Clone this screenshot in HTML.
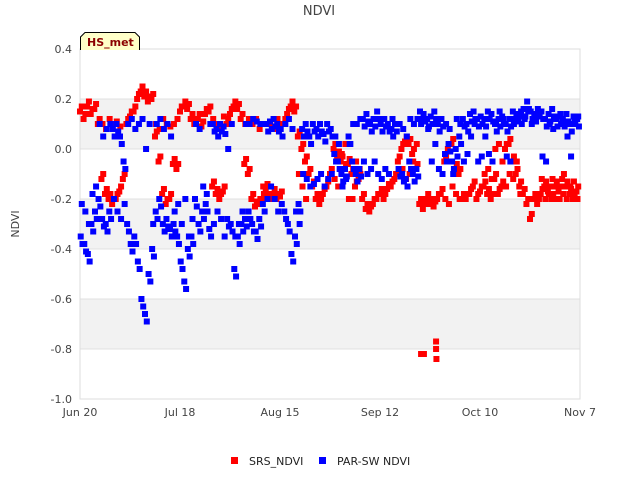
<!DOCTYPE html>
<html><head><meta charset="utf-8"><style>
body{margin:0;background:#fff;width:640px;height:480px;overflow:hidden;font-family:"DejaVu Sans","Liberation Sans",sans-serif}
</style></head><body>
<svg id="chart" width="640" height="480" xmlns="http://www.w3.org/2000/svg">
<g id="bands"></g>
<g id="grid"></g>
<rect x="80" y="49" width="500" height="350" fill="none" stroke="#ddd"/>
<g id="yticks"></g>
<g id="xticks"></g>
<g id="marks"></g>
<text x="319" y="15" text-anchor="middle" font-size="13" fill="#444">NDVI</text>
<text x="19" y="224" text-anchor="middle" font-size="11" fill="#444" transform="rotate(-90 19 224)">NDVI</text>
<g>
<path d="M80.5,50 L80.5,37 L85,32.5 L135,32.5 L139.5,37 L139.5,50" fill="#ffffc8" stroke="#000"/>
<text x="87" y="46" font-size="11" font-weight="bold" fill="#8b0000">HS_met</text>
</g>
<g>
<g><rect x="231" y="457" width="7" height="7" fill="#f00"/><text x="249" y="465" font-size="11" fill="#222">SRS_NDVI</text></g>
<g><rect x="319" y="457" width="7" height="7" fill="#00f"/><text x="337" y="465" font-size="11" fill="#222">PAR-SW NDVI</text></g>
</g>
</svg>
<script>
const yTicks=[0.4,0.2,0.0,-0.2,-0.4,-0.6,-0.8,-1.0];
const yTickLabels=["0.4","0.2","0.0","-0.2","-0.4","-0.6","-0.8","-1.0"];
const xTickDays=[0,28,56,84,112,140];
const xTickLabels=["Jun 20","Jul 18","Aug 15","Sep 12","Oct 10","Nov 7"];
const srsA=[.15,.12,.17,.14,.16,.10,-.12,-.18,-.2,-.22,-.2,-.17,-.12,.1,.13,.15,.2,.23,.21,.19,.2,.05,-.05,-.18,-.22,-.2,-.06,-.08,.15,.17,.16,.12,.1,.12,.09,.14,.15,-.15,-.18,-.2,-.17,.1,.14,.17,.16,.12,-.06,-.1,-.2,-.23,-.22,-.2,-.16,-.2,-.18,-.2,-.19,.1,.14,.17,.15,.05,0,-.05,-.1,-.15,-.2,-.22,-.18,-.15,-.1,0,-.03,-.05,-.08,-.06,-.1,-.15,-.12,-.2,-.24,-.25,-.22,-.2,-.18,-.2,-.16,-.15,-.12,-.05,0,.03,.02,-.02,-.08,-.22,-.24,-.2,-.22,-.23,-.2,-.18,-.05,0,.02,-.08,-.1,-.2,-.2,-.18,-.15,-.2,-.17,-.15,-.18,-.2,-.12,-.18,-.15,0,.02,-.05,-.1,-.15,-.18,-.22,-.28,-.2,-.22,-.18,-.15,-.17,-.2,-.15,-.17,-.12,-.15,-.18,-.2,-.17];
const srsB=[null,null,null,null,null,null,.1,.08,.12,.1,.11,.09,null,null,null,null,null,null,null,null,null,.1,.08,.12,.1,.09,.1,.12,null,null,null,null,null,null,null,null,null,.12,.1,.08,.13,null,null,null,null,null,.1,.12,.1,.12,.08,-.15,-.18,.1,.08,.12,.1,null,null,null,null,-.1,-.15,-.2,null,null,null,null,null,null,null,-.12,-.15,-.02,.02,-.2,-.2,-.05,-.08,null,null,null,null,null,null,null,null,null,null,-.1,-.08,-.12,-.1,-.05,.02,null,null,null,null,null,null,null,-.2,-.22,-.15,-.18,-.2,null,null,null,null,null,null,-.1,-.08,-.12,0,.02,-.05,-.15,-.1,-.12,-.05,-.18,null,null,null,null,null,-.12,-.2,-.18,-.12,-.2,-.2,-.18,-.2,-.15,-.13,-.2];
const srsOutDays=[95.5,96.3,99.7,99.7,99.8];
const srsOutVals=[-.82,-.82,-.77,-.8,-.84];
const parA=[-.35,-.38,-.42,-.3,-.25,-.2,-.28,-.3,-.25,.08,.1,.05,-.05,-.3,-.38,-.35,-.45,-.6,-.66,-.5,-.4,-.25,-.2,-.3,-.28,-.32,-.3,-.35,-.45,-.53,-.4,-.35,-.2,-.3,-.25,-.22,-.32,.1,.08,.1,.09,-.28,-.3,-.48,-.35,-.3,-.28,-.25,-.3,-.33,-.28,-.22,.1,.11,.12,.1,.08,-.25,-.3,-.42,-.35,-.22,.08,.1,.05,.1,.08,.1,.06,.1,.08,-.02,-.05,-.1,-.08,.05,-.05,-.1,-.08,.12,.14,.1,.12,.15,.1,.12,.1,.08,.1,-.08,-.1,-.12,-.05,-.1,-.08,.15,.14,.12,.13,.15,.1,.12,-.02,.02,-.05,0,.05,.12,.1,.14,.15,.12,.13,.12,.15,.14,.1,.12,.13,.1,.12,.15,.14,.13,.16,.19,.15,.14,.16,.15,.12,.14,.16,.12,.13,.12,.14,.1,.13,.12];
const parB=[-.22,-.25,-.3,-.18,-.15,.1,.05,.08,.1,-.2,-.25,-.28,-.22,.1,.12,.08,.1,.12,0,.1,-.3,.1,.12,.08,.1,.05,-.25,-.22,-.3,-.2,-.35,-.28,.1,.08,-.15,-.18,.1,-.3,-.25,-.28,-.35,0,.1,-.35,-.3,-.25,.1,.1,.12,.11,.1,.1,-.2,-.15,-.2,-.25,-.22,.1,.12,.08,-.25,-.3,-.1,-.12,-.15,-.14,-.12,-.1,-.15,-.12,-.1,.05,.02,-.15,-.12,.02,.1,.1,.12,-.05,-.1,-.08,-.05,-.1,-.12,-.08,-.1,.12,.1,.1,.08,.05,.12,.1,.12,.1,.12,.08,-.05,.02,-.08,-.1,.1,.08,-.1,.12,.1,-.05,-.02,.05,.1,-.05,-.03,.05,-.02,-.05,.1,.15,.12,-.03,-.05,.1,.12,.15,.12,.15,.1,.13,.15,-.03,-.05,.1,.08,.12,.14,.1,.05,-.03,.12,.13];

const NS="http://www.w3.org/2000/svg";
const X0=80,X1=580,Y0=399,Y1=49,DMAX=140,VMIN=-1,VMAX=0.4;
function xs(d){return X0+(d/DMAX)*(X1-X0);}
function ys(v){return Y0-(v-VMIN)/(VMAX-VMIN)*(Y0-Y1);}
function mk(tag,attrs){const e=document.createElementNS(NS,tag);for(const k in attrs)e.setAttribute(k,attrs[k]);return e;}
const bands=document.getElementById('bands'),grid=document.getElementById('grid');
for(let i=0;i<yTicks.length-1;i++){
  const r=mk('rect',{x:X0,y:ys(yTicks[i]),width:X1-X0,height:ys(yTicks[i+1])-ys(yTicks[i]),fill:(i%2===1)?'#f2f2f2':'#fff'});
  
  
  bands.appendChild(r);
}
const yt=document.getElementById('yticks');
yTicks.forEach((v,i)=>{
  const l=mk('line',{x1:X0,x2:X1,y1:ys(v),y2:ys(v),stroke:'#e0e0e0'});
  
  
  grid.appendChild(l);
  const t=mk('text',{x:72,y:ys(v)+4,'text-anchor':'end','font-size':'11',fill:'#444'});
  t.textContent=yTickLabels[i];
  
  
  yt.appendChild(t);
});
const xt=document.getElementById('xticks');
xTickDays.forEach((d,i)=>{
  const t=mk('text',{x:xs(d),y:416,'text-anchor':'middle','font-size':'11',fill:'#444'});
  t.textContent=xTickLabels[i];
  
  
  xt.appendChild(t);
});
const marks=document.getElementById('marks');
function pt(d,v,c,name){
  if(v===null)return;
  const r=mk('rect',{x:xs(d)-3,y:ys(v)-3,width:6,height:6,fill:c});
  
  
  marks.appendChild(r);
}
srsA.forEach((v,i)=>{pt(i,v,'#f00','srs-point');pt(i+0.5,v===null?null:v+0.02,'#f00','srs-point');});
srsB.forEach((v,i)=>pt(i+0.3,v,'#f00','srs-point'));
srsOutDays.forEach((d,i)=>pt(d,srsOutVals[i],'#f00','srs-point'));
parA.forEach((v,i)=>{pt(i+0.2,v,'#00f','parsw-point');pt(i+0.7,v===null?null:v-0.03,'#00f','parsw-point');});
parB.forEach((v,i)=>pt(i+0.5,v,'#00f','parsw-point'));
</script>
</body></html>
